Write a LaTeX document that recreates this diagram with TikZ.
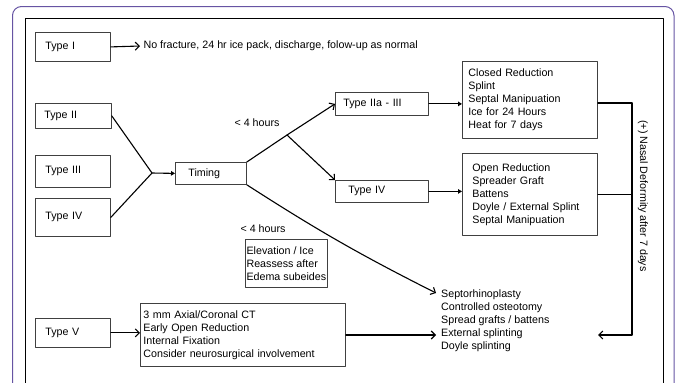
\documentclass[tikz,border=0pt]{standalone}
\usepackage{fontspec}
\setmainfont{Liberation Sans}[Ligatures=NoCommon]
\usetikzlibrary{arrows.meta,calc}
\definecolor{framepurple}{rgb}{0.40,0.33,0.64}
\definecolor{boxgray}{rgb}{0.25,0.25,0.25}
\tikzset{
  every node/.style={font=\fontsize{10.7}{13}\selectfont},
  box/.style={draw=boxgray,line width=0.8pt,anchor=north west,align=left,
    inner ysep=0pt,inner xsep=#1},
  box/.default=10pt,
  arr/.style={line width=1.1pt,-{Straight Barb[length=4pt,width=8pt]}},
  farr/.style={line width=1.1pt,-{Triangle[length=4pt,width=4.5pt]}},
  link/.style={line width=1.1pt}
}

\begin{document}
\begin{tikzpicture}[x=1pt,y=-1pt,line cap=round,line join=round]
            \useasboundingbox (0,0) rectangle (675,383);
            \clip (0,0) rectangle (675,383);
            \draw [color=framepurple,line width=1pt,rounded corners=9pt] (12.5,6.5) rectangle (674,420);
            \draw [line width=0.8pt] (25,18) rectangle (663,420);
            % left column
            \node [box,text width=55,minimum height=29] (t1) at (35,32) {Type I};
            \node [box=9pt,text width=58,minimum height=25] (t2) at (35,103) {Type II};
            \node [box,text width=55,minimum height=32] (t3) at (35,155) {Type III};
            \node [box,text width=55,minimum height=38] (t4) at (35,198) {Type IV};
            \node [box,text width=55,minimum height=29] (t5) at (35,318) {Type V};
            \node [anchor=west] (nofrac) at (140,46) {No fracture, 24 hr ice pack, discharge, folow-up as normal};
            % middle
            \coordinate (j1) at (152,173);
            \node [box=13pt,text width=45,minimum height=22] (timing) at (175,162) {Timing};
            \coordinate (j2) at (287,135);
            \node (h1) at (257,123) {< 4 hours};
            \node (h2) at (263,229) {< 4 hours};
            \node [box=8pt,text width=77,minimum height=23] (t23) at (335,92) {Type IIa - III};
            \node [box=13pt,text width=67,minimum height=22] (t4b) at (335,180) {Type IV};
            \node [box=0.5pt,minimum width=82,minimum height=48] (elev) at (245,239) {Elevation / Ice\\Reassess after\\Edema subeides};
            \node [box=3pt,text width=199,minimum height=63] (ct) at (140,303) {3 mm Axial/Coronal CT\\Early Open Reduction\\Internal Fixation\\Consider neurosurgical involvement};
            % right column
            \node [box=6pt,text width=123,minimum height=77] (closed) at (462,61) {Closed Reduction\\Splint\\Septal Manipuation\\Ice for 24 Hours\\Heat for 7 days};
            \node [box=10pt,text width=115,minimum height=82] (open) at (462,153) {Open Reduction\\Spreader Graft\\Battens\\Doyle / External Splint\\Septal Manipuation\\[4pt]};
            \node [anchor=north west,align=left,inner sep=0pt] (septo) at (441,290) {Septorhinoplasty\\Controlled osteotomy\\Spread grafts / battens\\External splinting\\Doyle splinting};
            \node [rotate=-90] (nasal) at (643,196) {(+) Nasal Deformity after 7 days};
            \coordinate (ret) at (598,335);
            \coordinate (rc) at (632,103);
            % connectors
            \draw [arr] (t1.east) -- (nofrac.west);
            \draw [link] (t2.east) -- (j1) -- (t4.east);
            \draw [farr] (j1) -- (timing.west);
            \draw [link] (timing.north east) -- (j2);
            \draw [arr] (j2) -- (t23.west);
            \draw [arr] (j2) -- (t4b.north west);
            \draw [arr] (timing.south east) to[bend right=3] ($(septo.north west)+(-5,3)$);
            \draw [farr] (t23.east) -- (closed.west |- t23.east);
            \draw [farr] (t4b.east) -- (open.west |- t4b.east);
            \draw [arr] (t5.east) -- (ct.west |- t5.east);
            \draw [arr] (ct.east |- ret) -- ($(septo.west |- ret)+(-5,0)$);
            \draw [link] (closed.east |- rc) -- (rc);
            \draw [link] (open.east) -- (open.east -| rc);
            \draw [arr] (rc) |- (ret);
\end{tikzpicture}
\end{document}
